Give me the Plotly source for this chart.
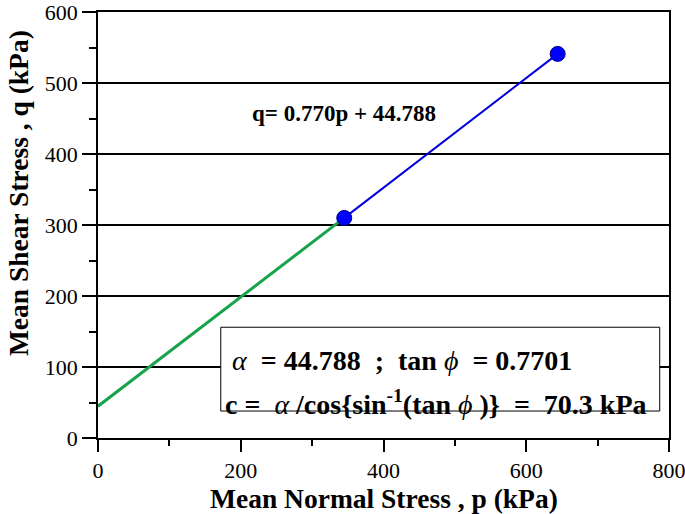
import plotly.graph_objects as go

# Data
p_points = [345, 644]
q_points = [310, 541]
fit_slope = 0.770
fit_intercept = 44.788
green_p = [0, 345]
green_q = [44.788, 310]
x_ticks = [0, 200, 400, 600, 800]
y_ticks = [0, 100, 200, 300, 400, 500, 600]

FONT = "Liberation Serif"
NB = "\u00a0"

fig = go.Figure()
fig.add_trace(go.Scatter(x=green_p, y=green_q, mode="lines",
                         line=dict(color="#16a34a", width=3), showlegend=False))
fig.add_trace(go.Scatter(x=p_points, y=q_points, mode="lines+markers",
                         line=dict(color="#0000dd", width=2),
                         marker=dict(color="#0000ff", size=15, line=dict(color="#000080", width=1)),
                         showlegend=False))

# text box
fig.add_shape(type="rect", x0=172, x1=787, y0=38, y1=156, xref="x", yref="y",
              line=dict(color="black", width=1), fillcolor="white", layer="above")

line1 = ("<i>α</i><b>" + NB * 2 + "=" + NB + "44.788" + NB * 2 + ";" + NB * 2 + "tan</b>" + NB
         + "<i>ϕ</i><b>" + NB * 2 + "=" + NB + "0.7701</b>")
line2 = ("<b>c" + NB + "=" + NB * 2 + "</b><i>α</i><b>" + NB + "/cos{sin<sup>-1</sup>(tan</b>" + NB
         + "<i>ϕ</i>" + NB + "<b>)}" + NB * 2 + "=" + NB * 2 + "70.3 kPa</b>")

fig.add_annotation(x=185, y=109, xref="x", yref="y", xanchor="left", yanchor="middle",
                   text=line1, showarrow=False, font=dict(family=FONT, size=28, color="black"))
fig.add_annotation(x=175, y=50, xref="x", yref="y", xanchor="left", yanchor="middle",
                   text=line2, showarrow=False, font=dict(family=FONT, size=28, color="black"))

fig.add_annotation(x=344, y=457, xref="x", yref="y", xanchor="center", yanchor="middle",
                   text="<b>q= %.3fp + %.3f</b>" % (fit_slope, fit_intercept),
                   showarrow=False, font=dict(family=FONT, size=23, color="black"))

# axis titles
fig.add_annotation(x=0.5, y=-0.141, xref="paper", yref="paper", xanchor="center", yanchor="middle",
                   text="<b>Mean Normal Stress , p (kPa)</b>", showarrow=False,
                   font=dict(family=FONT, size=27.5, color="black"))
fig.add_annotation(x=-0.140, y=0.575, xref="paper", yref="paper", xanchor="center", yanchor="middle",
                   text="<b>Mean Shear Stress , q (kPa)</b>", showarrow=False, textangle=-90,
                   font=dict(family=FONT, size=27.5, color="black"))

axis_common = dict(ticks="outside", tickwidth=1.5, tickcolor="black", showline=True,
                   linecolor="black", linewidth=1.5, mirror=True, zeroline=False,
                   automargin=False, ticklabeloverflow="allow",
                   tickfont=dict(size=22, family=FONT, color="black"))

fig.update_layout(
    width=685, height=514,
    margin=dict(l=98, r=16, t=12, b=76),
    plot_bgcolor="white", paper_bgcolor="white",
    font=dict(family=FONT, color="black"),
    xaxis=dict(range=[0, 800], tickvals=x_ticks, ticklen=12, showgrid=False,
               minor=dict(dtick=100, ticks="outside", ticklen=6, tickwidth=1.5, tickcolor="black", showgrid=False),
               **axis_common),
    yaxis=dict(range=[0, 600], tickvals=y_ticks, ticklen=14,
               showgrid=True, gridcolor="black", gridwidth=1.5,
               minor=dict(dtick=50, ticks="outside", ticklen=7, tickwidth=1.5, tickcolor="black", showgrid=False),
               **axis_common),
)

fig.write_html("out.html", config={"displayModeBar": False},
               post_script="document.body.style.margin='0';")
